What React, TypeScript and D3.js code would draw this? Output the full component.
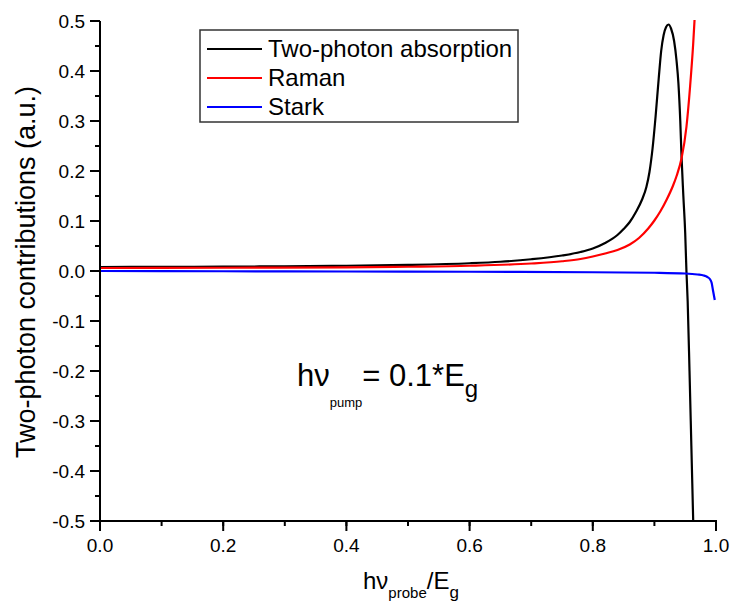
import React from "react";
import * as d3 from "d3";

const tpaX = [0, 0.1, 0.2, 0.3, 0.4, 0.5, 0.6, 0.65, 0.7, 0.75, 0.78, 0.8, 0.82, 0.84, 0.85, 0.86, 0.87, 0.88, 0.887, 0.892, 0.897, 0.902, 0.907, 0.911, 0.915, 0.919, 0.923, 0.927, 0.932, 0.936, 0.939, 0.942, 0.944, 0.947, 0.95, 0.952, 0.954, 0.957, 0.96, 0.963, 0.965];
const tpaY = [0.008, 0.0083, 0.0087, 0.0094, 0.0105, 0.0122, 0.0155, 0.0185, 0.0235, 0.031, 0.038, 0.045, 0.056, 0.072, 0.084, 0.098, 0.118, 0.143, 0.168, 0.198, 0.245, 0.31, 0.385, 0.44, 0.472, 0.488, 0.493, 0.485, 0.46, 0.42, 0.375, 0.3, 0.23, 0.15, 0.076, 0.0, -0.06, -0.2, -0.35, -0.5, -0.6];

const ramanX = [0, 0.2, 0.4, 0.5, 0.6, 0.7, 0.75, 0.78, 0.8, 0.82, 0.84, 0.86, 0.875, 0.89, 0.9, 0.91, 0.92, 0.93, 0.936, 0.944, 0.952, 0.958, 0.963, 0.966, 0.968];
const ramanY = [0.006, 0.0065, 0.0072, 0.0085, 0.0105, 0.015, 0.0195, 0.024, 0.029, 0.035, 0.042, 0.053, 0.066, 0.085, 0.101, 0.12, 0.143, 0.17, 0.19, 0.225, 0.288, 0.37, 0.455, 0.52, 0.57];

const starkX = [0, 0.2, 0.4, 0.6, 0.8, 0.9, 0.95, 0.97, 0.98, 0.986, 0.99, 0.993, 0.995, 0.998];
const starkY = [0.0, -0.0005, -0.001, -0.0015, -0.0025, -0.0035, -0.005, -0.007, -0.009, -0.012, -0.016, -0.024, -0.038, -0.058];

const xTicks = [0, 0.2, 0.4, 0.6, 0.8, 1.0];
const yTicks = [0.5, 0.4, 0.3, 0.2, 0.1, 0.0, -0.1, -0.2, -0.3, -0.4, -0.5];
const legendLabels = ["Two-photon absorption", "Raman", "Stark"];
const seriesColors = ["#000000", "#ff0000", "#0000ff"];

const FONT = "'Liberation Sans', Arial, Helvetica, sans-serif";

export default function App() {
  const W = 730, H = 605;
  const left = 100, right = 716, top = 21, bottom = 521;
  const x = d3.scaleLinear().domain([0, 1]).range([left, right]);
  const y = d3.scaleLinear().domain([-0.5, 0.5]).range([bottom, top]);

  const line = d3
    .line<[number, number]>()
    .x((d) => x(d[0]))
    .y((d) => y(d[1]))
    .curve(d3.curveMonotoneX);

  const series = [
    { xs: tpaX, ys: tpaY },
    { xs: ramanX, ys: ramanY },
    { xs: starkX, ys: starkY },
  ];

  const xMinor = d3.range(0, 1.0001, 0.1);
  const yMinor = d3.range(-0.5, 0.5001, 0.05);

  return (
    <svg width={W} height={H} style={{ position: "absolute", left: 0, top: 0, background: "#fff" }} fontFamily={FONT}>
      <defs>
        <clipPath id="plotclip">
          <rect x={left} y={top - 1} width={right - left + 4} height={bottom - top + 2} />
        </clipPath>
      </defs>
      <rect x={0} y={0} width={W} height={H} fill="#fff" />

      {/* curves */}
      <g clipPath="url(#plotclip)">
        {series.map((s, i) => (
          <path
            key={i}
            d={line(s.xs.map((v, j) => [v, s.ys[j]] as [number, number])) || ""}
            fill="none"
            stroke={seriesColors[i]}
            strokeWidth={2.2}
            strokeLinejoin="round"
          />
        ))}
      </g>

      {/* axes */}
      <line x1={left} x2={left} y1={top} y2={bottom + 1} stroke="#000" strokeWidth={2} />
      <line x1={left - 1} x2={right + 1} y1={bottom} y2={bottom} stroke="#000" strokeWidth={2} />

      {yMinor.map((v, i) => (
        <line key={"ym" + i} x1={left - 5} x2={left} y1={y(v)} y2={y(v)} stroke="#000" strokeWidth={2} />
      ))}
      {yTicks.map((v, i) => (
        <g key={"yt" + i}>
          <line x1={left - 10} x2={left} y1={y(v)} y2={y(v)} stroke="#000" strokeWidth={2} />
          <text x={85} y={y(v)} dy="0.36em" textAnchor="end" fontSize={19} fill="#000">
            {v.toFixed(1)}
          </text>
        </g>
      ))}

      {xMinor.map((v, i) => (
        <line key={"xm" + i} x1={x(v)} x2={x(v)} y1={bottom} y2={bottom + 5} stroke="#000" strokeWidth={2} />
      ))}
      {xTicks.map((v, i) => (
        <g key={"xt" + i}>
          <line x1={x(v)} x2={x(v)} y1={bottom} y2={bottom + 10} stroke="#000" strokeWidth={2} />
          <text x={x(v)} y={552} textAnchor="middle" fontSize={19} fill="#000">
            {v.toFixed(1)}
          </text>
        </g>
      ))}

      {/* y title */}
      <text transform="translate(35,272) rotate(-90)" textAnchor="middle" fontSize={27} fill="#000">
        Two-photon contributions (a.u.)
      </text>

      {/* x title */}
      <text x={363} y={589} fontSize={24} fill="#000">
        hν
        <tspan fontSize={15} dy={9}>probe</tspan>
        <tspan fontSize={24} dy={-9}>/E</tspan>
        <tspan fontSize={17} dy={9}>g</tspan>
      </text>

      {/* annotation */}
      <text x={297} y={386} fontSize={31} fill="#000">
        hν
        <tspan fontSize={13} dy={21}>pump</tspan>
        <tspan fontSize={31} dy={-21}>= 0.1*E</tspan>
        <tspan fontSize={24} dy={11}>g</tspan>
      </text>

      {/* legend */}
      <rect x={200} y={30} width={318} height={92} fill="#fff" stroke="#333" strokeWidth={1.5} />
      {legendLabels.map((lab, i) => {
        const ly = [49, 78, 107][i];
        return (
          <g key={"lg" + i}>
            <line x1={207} x2={262} y1={ly} y2={ly} stroke={seriesColors[i]} strokeWidth={2.2} />
            <text x={268} y={ly + 7.5} fontSize={24} fill="#000">
              {lab}
            </text>
          </g>
        );
      })}
    </svg>
  );
}
